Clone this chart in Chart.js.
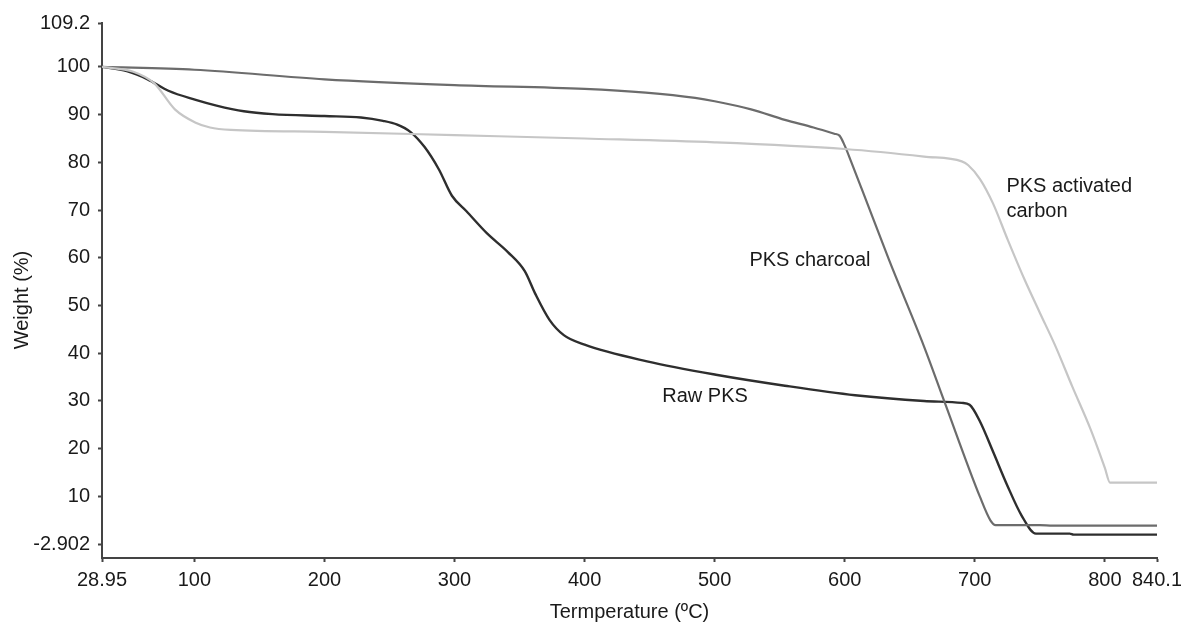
<!DOCTYPE html>
<html>
<head>
<meta charset="utf-8">
<script src="https://cdn.jsdelivr.net/npm/chart.js@4"></script>
<style>
body{margin:0;background:#fff}
#wrap{width:1181px;height:628px}
</style>
</head>
<body>
<div id="wrap"><canvas id="tga"></canvas></div>
<script>
var rawT = [28.95,48,64,80,101,117,138,160,200,228,245,256,266,277,288,298,309,325,341,354,362,373,384,400,448,501,554,608,661,690,696,704,714,725,736,747,773,776,840.1]
var rawW = [100,99.1,97.4,95.0,93.1,91.9,90.7,90.1,89.7,89.4,88.7,87.9,86.4,83.2,78.5,73.0,69.8,65.1,61.2,57.2,52.5,47.0,43.8,41.8,38.3,35.5,33.2,31.2,30.0,29.6,29.2,25.7,19.4,12.3,6.0,2.2,2.2,2.0,2.0]

var charT = [28.95,100,200,300,400,447,485,500,528,554,576,592,596,600,605,613,634,661,677,704,712,716,750,760,840.1]
var charW = [100,99.4,97.4,96.2,95.4,94.6,93.5,92.8,91.1,88.9,87.3,86.0,85.6,83.5,80.1,74.5,59.6,41.4,29.6,9.9,5.0,4.0,4.0,3.9,3.9]

var actT = [28.95,53,69,85,101,112,128,200,300,400,500,600,661,690,695,704,714,725,738,750,762,775,789,800,804,840.1]
var actW = [100,99.0,96.6,91.1,88.3,87.3,86.8,86.4,85.7,85.0,84.2,82.8,81.2,80.2,79.4,76.5,71.4,64.0,55.6,48.5,41.5,33.0,24.1,16.0,12.9,12.9]

var xTicks = [28.95,100,200,300,400,500,600,700,800,840.1]
var yTicks = [0,10,20,30,40,50,60,70,80,90,100,109.2]
var yLabels = ["-2.902","10","20","30","40","50","60","70","80","90","100","109.2"]

var notes = [
	{text:"PKS activated", t:724.3, w:74.9},
	{text:"carbon", t:724.3, w:69.7},
	{text:"PKS charcoal", t:526.7, w:59.4},
	{text:"Raw PKS", t:459.7, w:31.0}
]

function points(ts, ws){
	var out = []
	for(var i=0;i<ts.length;i++){
		out.push({x:ts[i], y:ws[i]})
	}
	return out
}

var labelPlugin = {
	id:"notes",
	afterDatasetsDraw: function(chart){
		var ctx = chart.ctx
		var sx = chart.scales.x
		var sy = chart.scales.y
		ctx.save()
		ctx.font = "20px 'Liberation Sans', Arial, sans-serif"
		ctx.fillStyle = "#1a1a1a"
		ctx.textAlign = "left"
		ctx.textBaseline = "middle"
		for(var i=0;i<notes.length;i++){
			ctx.fillText(notes[i].text, sx.getPixelForValue(notes[i].t), sy.getPixelForValue(notes[i].w))
		}
		// y axis title, sits a little below the middle in the original
		ctx.translate(22, 300)
		ctx.rotate(-Math.PI/2)
		ctx.textAlign = "center"
		ctx.fillText("Weight (%)", 0, 0)
		ctx.restore()
	}
}

Chart.defaults.font.family = "'Liberation Sans', Arial, sans-serif"
Chart.defaults.font.size = 20
Chart.defaults.color = "#1a1a1a"

var line = {pointRadius:0, fill:false, cubicInterpolationMode:"monotone"}

new Chart("tga", {
	type:"line",
	data:{datasets:[
		Object.assign({label:"PKS activated carbon", data:points(actT, actW), borderColor:"#c6c6c6", borderWidth:2.2}, line),
		Object.assign({label:"PKS charcoal", data:points(charT, charW), borderColor:"#6c6c6c", borderWidth:2.2}, line),
		Object.assign({label:"Raw PKS", data:points(rawT, rawW), borderColor:"#2e2e2e", borderWidth:2.4}, line)
	]},
	options:{
		responsive:true,
		maintainAspectRatio:false,
		animation:false,
		layout:{padding:{top:23, left:0, right:0, bottom:0}},
		plugins:{legend:{display:false}, tooltip:{enabled:false}},
		scales:{
			x:{
				type:"linear", min:28.95, max:840.1,
				afterBuildTicks: function(s){ s.ticks = xTicks.map(function(v){ return {value:v} }) },
				afterFit: function(s){ s.height = 70; s.paddingRight = 24 },
				ticks:{padding:6, maxRotation:0, autoSkip:false, callback:function(v){ return String(v) }},
				grid:{drawOnChartArea:false, tickLength:4, tickColor:"#444", tickWidth:2},
				border:{color:"#444", width:2},
				title:{display:true, text:"Termperature (ºC)", padding:{top:0, bottom:4}}
			},
			y:{
				type:"linear", min:-2.902, max:109.2,
				afterBuildTicks: function(s){ s.ticks = yTicks.map(function(v){ return {value:v} }) },
				afterFit: function(s){ s.width = 102 },
				ticks:{padding:8, autoSkip:false, callback:function(v){ return yLabels[yTicks.indexOf(v)] }},
				grid:{drawOnChartArea:false, tickLength:4, tickColor:"#444", tickWidth:2},
				border:{color:"#444", width:2},
				title:{display:false}
			}
		}
	},
	plugins:[labelPlugin]
})
</script>
</body>
</html>
